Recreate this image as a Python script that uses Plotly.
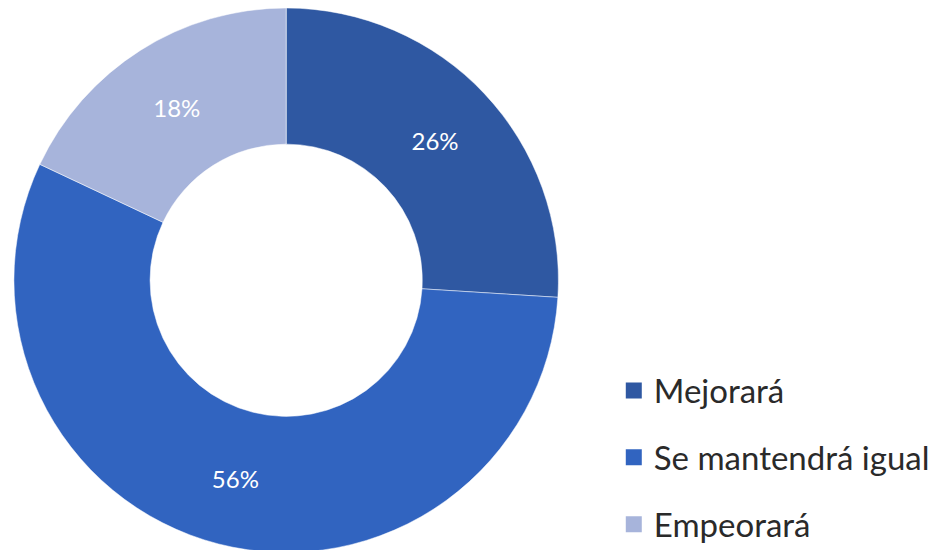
import plotly.graph_objects as go

categorias = ["Mejorará", "Se mantendrá igual", "Empeorará"]
porcentajes = [26, 56, 18]
colores = ["#2f58a2", "#3164c0", "#a7b4db"]

fig = go.Figure()

fig.add_trace(go.Pie(
    labels=categorias,
    values=porcentajes,
    hole=0.5,
    sort=False,
    direction="clockwise",
    rotation=0,
    marker=dict(colors=colores, line=dict(color="white", width=0.5)),
    texttemplate="%{value}%",
    textposition="inside",
    insidetextorientation="horizontal",
    textfont=dict(family="Lato", size=24, color="white"),
    domain=dict(x=[0, 0.585], y=[0.01, 1.0]),
    showlegend=False,
))

# entradas de leyenda
for i, (cat, col) in enumerate(zip(categorias, colores)):
    fig.add_trace(go.Scatter(
        x=[None], y=[None], mode="markers", name=cat,
        marker=dict(symbol="square", size=16, color=col),
        legendgroup=f"g{i}", showlegend=True,
    ))

fig.update_layout(
    width=951, height=550,
    margin=dict(l=0, r=0, t=0, b=0),
    paper_bgcolor="white", plot_bgcolor="white",
    xaxis=dict(visible=False), yaxis=dict(visible=False),
    legend=dict(
        x=0.637, y=0.01, xanchor="left", yanchor="bottom",
        font=dict(family="Lato", size=33, color="#2a2a2a"),
        tracegroupgap=21, itemwidth=30,
    ),
)

fig.write_html("out.html")
